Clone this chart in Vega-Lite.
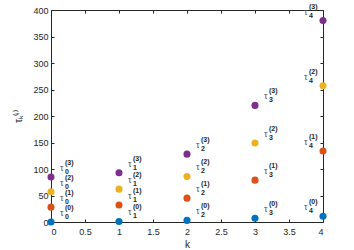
{
  "$schema": "https://vega.github.io/schema/vega-lite/v6.json",
  "width": 272,
  "height": 212,
  "autosize": {"type": "none"},
  "padding": {"left": 51, "top": 10, "right": 31, "bottom": 28},
  "background": "white",
  "config": {
    "view": {"stroke": "#262626", "strokeWidth": 1},
    "font": "Liberation Sans",
    "axis": {"grid": false, "domain": false, "tickColor": "#262626", "tickSize": -3, "labelColor": "#262626", "labelFontSize": 9, "titleFontSize": 10, "titleFontWeight": "normal", "titleColor": "#262626"}
  },
  "data": {"values": [
    {"k": 0, "i": 0, "v": 0, "sup": "(0)", "sub": "0"},
    {"k": 0, "i": 1, "v": 28, "sup": "(1)", "sub": "0"},
    {"k": 0, "i": 2, "v": 57, "sup": "(2)", "sub": "0"},
    {"k": 0, "i": 3, "v": 85, "sup": "(3)", "sub": "0"},
    {"k": 1, "i": 0, "v": 1, "sup": "(0)", "sub": "1"},
    {"k": 1, "i": 1, "v": 32, "sup": "(1)", "sub": "1"},
    {"k": 1, "i": 2, "v": 62, "sup": "(2)", "sub": "1"},
    {"k": 1, "i": 3, "v": 93, "sup": "(3)", "sub": "1"},
    {"k": 2, "i": 0, "v": 3, "sup": "(0)", "sub": "2"},
    {"k": 2, "i": 1, "v": 45, "sup": "(1)", "sub": "2"},
    {"k": 2, "i": 2, "v": 86, "sup": "(2)", "sub": "2"},
    {"k": 2, "i": 3, "v": 128, "sup": "(3)", "sub": "2"},
    {"k": 3, "i": 0, "v": 7, "sup": "(0)", "sub": "3"},
    {"k": 3, "i": 1, "v": 79, "sup": "(1)", "sub": "3"},
    {"k": 3, "i": 2, "v": 149, "sup": "(2)", "sub": "3"},
    {"k": 3, "i": 3, "v": 220, "sup": "(3)", "sub": "3"},
    {"k": 4, "i": 0, "v": 11, "sup": "(0)", "sub": "4"},
    {"k": 4, "i": 1, "v": 134, "sup": "(1)", "sub": "4"},
    {"k": 4, "i": 2, "v": 257, "sup": "(2)", "sub": "4"},
    {"k": 4, "i": 3, "v": 380, "sup": "(3)", "sub": "4"}
  ]},
  "encoding": {
    "x": {"field": "k", "type": "quantitative", "scale": {"domain": [0, 4], "nice": false}},
    "y": {"field": "v", "type": "quantitative", "scale": {"domain": [0, 400], "nice": false}}
  },
  "layer": [
    {
      "mark": {"type": "circle", "size": 50, "opacity": 1},
      "encoding": {
        "x": {"field": "k", "type": "quantitative", "axis": {"orient": "bottom", "values": [0, 0.5, 1, 1.5, 2, 2.5, 3, 3.5, 4], "format": "~f", "labelPadding": 8, "title": "k", "titlePadding": 3}},
        "y": {"field": "v", "type": "quantitative", "axis": {"orient": "left", "values": [0, 50, 100, 150, 200, 250, 300, 350, 400], "labelPadding": 6, "title": "τₖ⁽ⁱ⁾", "titlePadding": 9}},
        "color": {"field": "i", "type": "nominal", "scale": {"domain": [0, 1, 2, 3], "range": ["#0072BD", "#D95319", "#EDB120", "#7E2F8E"]}, "legend": null}
      }
    },
    {
      "mark": {"type": "point", "opacity": 0},
      "encoding": {
        "x": {"field": "k", "type": "quantitative", "axis": {"orient": "top", "values": [0, 0.5, 1, 1.5, 2, 2.5, 3, 3.5, 4], "labels": false, "title": null}},
        "y": {"field": "v", "type": "quantitative", "axis": {"orient": "right", "values": [0, 50, 100, 150, 200, 250, 300, 350, 400], "labels": false, "title": null}}
      }
    },
    {
      "transform": [{"filter": "datum.k < 4"}],
      "mark": {"type": "text", "align": "left", "baseline": "middle", "dx": 9, "dy": -9, "fontSize": 9, "color": "#555555"},
      "encoding": {
        "x": {"field": "k", "type": "quantitative", "axis": null},
        "y": {"field": "v", "type": "quantitative", "axis": null},
        "text": {"value": "τ"}
      }
    },
    {
      "transform": [{"filter": "datum.k < 4"}],
      "mark": {"type": "text", "align": "left", "baseline": "middle", "dx": 14, "dy": -14, "fontSize": 7, "fontWeight": "bold", "color": "#262626"},
      "encoding": {
        "x": {"field": "k", "type": "quantitative", "axis": null},
        "y": {"field": "v", "type": "quantitative", "axis": null},
        "text": {"field": "sup"}
      }
    },
    {
      "transform": [{"filter": "datum.k < 4"}],
      "mark": {"type": "text", "align": "left", "baseline": "middle", "dx": 14, "dy": -5, "fontSize": 7, "fontWeight": "bold", "color": "#262626"},
      "encoding": {
        "x": {"field": "k", "type": "quantitative", "axis": null},
        "y": {"field": "v", "type": "quantitative", "axis": null},
        "text": {"field": "sub"}
      }
    },
    {
      "transform": [{"filter": "datum.k == 4"}],
      "mark": {"type": "text", "align": "left", "baseline": "middle", "dx": -19, "dy": -9, "fontSize": 9, "color": "#555555"},
      "encoding": {
        "x": {"field": "k", "type": "quantitative", "axis": null},
        "y": {"field": "v", "type": "quantitative", "axis": null},
        "text": {"value": "τ"}
      }
    },
    {
      "transform": [{"filter": "datum.k == 4"}],
      "mark": {"type": "text", "align": "left", "baseline": "middle", "dx": -14, "dy": -14, "fontSize": 7, "fontWeight": "bold", "color": "#262626"},
      "encoding": {
        "x": {"field": "k", "type": "quantitative", "axis": null},
        "y": {"field": "v", "type": "quantitative", "axis": null},
        "text": {"field": "sup"}
      }
    },
    {
      "transform": [{"filter": "datum.k == 4"}],
      "mark": {"type": "text", "align": "left", "baseline": "middle", "dx": -14, "dy": -5, "fontSize": 7, "fontWeight": "bold", "color": "#262626"},
      "encoding": {
        "x": {"field": "k", "type": "quantitative", "axis": null},
        "y": {"field": "v", "type": "quantitative", "axis": null},
        "text": {"field": "sub"}
      }
    }
  ],
  "resolve": {"axis": {"x": "independent", "y": "independent"}}
}
